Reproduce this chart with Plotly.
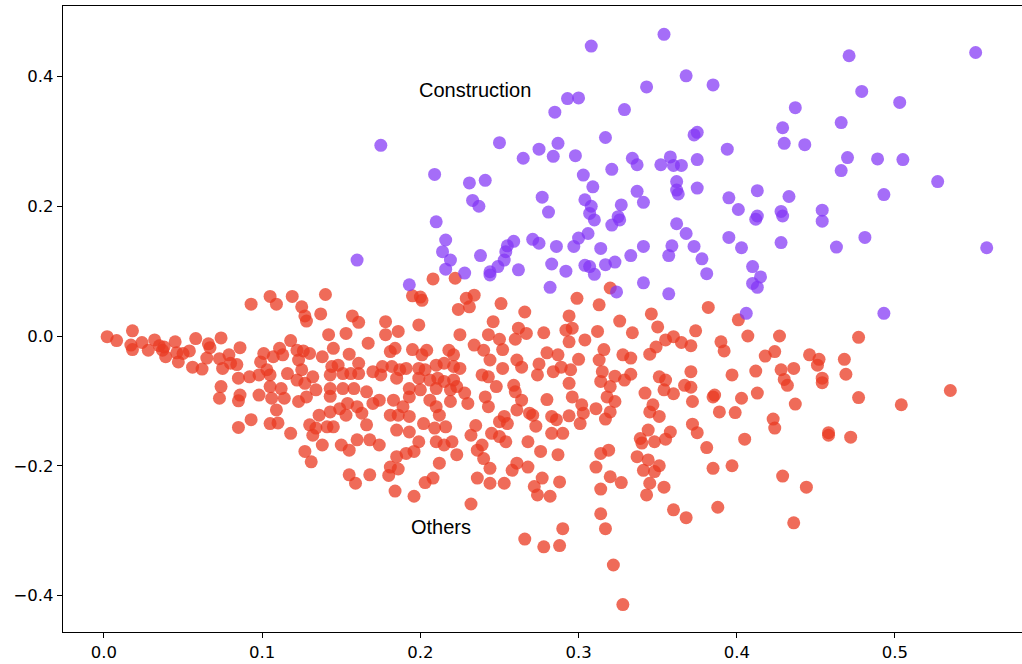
import plotly.graph_objects as go

# ---- data ----
others_x = [
    0.002, 0.008, 0.018, 0.017, 0.018, 0.024, 0.028, 0.032, 0.035, 0.038,
    0.037, 0.039, 0.045, 0.046, 0.047, 0.050, 0.054, 0.058, 0.056, 0.062,
    0.066, 0.067, 0.065, 0.074, 0.073, 0.075, 0.079, 0.080, 0.084, 0.086,
    0.093, 0.085, 0.074, 0.073, 0.086, 0.085, 0.092, 0.098, 0.099, 0.098,
    0.093, 0.085, 0.101,
    0.105, 0.109, 0.119, 0.125, 0.127, 0.128, 0.137, 0.140, 0.157, 0.161,
    0.142, 0.153, 0.167, 0.178, 0.178, 0.186, 0.199, 0.195, 0.200, 0.201,
    0.208, 0.222, 0.224, 0.225,
    0.118, 0.111, 0.107, 0.113, 0.122, 0.126, 0.130, 0.123, 0.138, 0.145,
    0.155, 0.161, 0.148, 0.144, 0.103, 0.105, 0.116, 0.125, 0.122, 0.127,
    0.132, 0.143, 0.151, 0.156, 0.161, 0.170, 0.176, 0.182, 0.187, 0.184,
    0.181, 0.195, 0.204, 0.201, 0.218, 0.221, 0.210, 0.215, 0.191, 0.199,
    0.203, 0.221, 0.225, 0.175, 0.185, 0.199, 0.206, 0.211, 0.215, 0.221,
    0.105, 0.112, 0.134, 0.143, 0.151, 0.158, 0.166, 0.193, 0.200, 0.210,
    0.219, 0.223,
    0.106, 0.114, 0.123, 0.128, 0.143, 0.149, 0.154, 0.160, 0.170, 0.174,
    0.183, 0.189, 0.193, 0.206, 0.210, 0.219,
    0.109, 0.136, 0.143, 0.153, 0.163, 0.181, 0.186, 0.193, 0.212,
    0.105, 0.110, 0.130, 0.134, 0.141, 0.145, 0.166, 0.185, 0.193, 0.202,
    0.209, 0.216, 0.118, 0.132, 0.138, 0.150, 0.155, 0.160, 0.168, 0.174,
    0.127, 0.131, 0.185, 0.191, 0.196, 0.199, 0.210, 0.215, 0.220, 0.212,
    0.181,
    0.234, 0.229, 0.231, 0.251, 0.266, 0.246, 0.262, 0.267, 0.260, 0.243,
    0.250, 0.252, 0.278, 0.299, 0.294, 0.292, 0.296, 0.294, 0.304, 0.313,
    0.320, 0.312, 0.326, 0.334, 0.346, 0.350, 0.316, 0.313, 0.328, 0.333,
    0.345, 0.349, 0.333, 0.329, 0.323, 0.315, 0.314, 0.320, 0.323, 0.318,
    0.311, 0.320, 0.317, 0.342, 0.347, 0.345, 0.351, 0.351, 0.234, 0.240,
    0.244, 0.261, 0.264, 0.252, 0.275, 0.274, 0.280, 0.287, 0.284, 0.289,
    0.295, 0.300, 0.294, 0.239, 0.243, 0.248, 0.241, 0.243, 0.230, 0.228,
    0.259, 0.260, 0.264, 0.261, 0.269, 0.273, 0.280, 0.296, 0.302, 0.303,
    0.301, 0.294, 0.283, 0.286, 0.253, 0.255, 0.250, 0.245, 0.250, 0.254,
    0.235, 0.232, 0.239, 0.240, 0.236, 0.268, 0.271, 0.283, 0.290, 0.276,
    0.287, 0.314, 0.319, 0.344, 0.339, 0.340, 0.348, 0.337, 0.344, 0.311,
    0.261, 0.268, 0.244,
    0.382, 0.401, 0.407, 0.427, 0.374, 0.360, 0.355, 0.365, 0.371, 0.390,
    0.392, 0.418, 0.424, 0.446, 0.452, 0.451, 0.468, 0.469, 0.477, 0.428,
    0.436, 0.430, 0.432, 0.454, 0.454, 0.412, 0.397, 0.371, 0.355, 0.367,
    0.371, 0.360, 0.354, 0.372, 0.385, 0.386, 0.403, 0.413, 0.437, 0.477,
    0.389, 0.399, 0.423, 0.424, 0.372, 0.375, 0.358, 0.355, 0.381, 0.405,
    0.458, 0.458, 0.472, 0.385, 0.397,
    0.504, 0.535,
    0.155, 0.159, 0.168, 0.186, 0.180, 0.184, 0.196, 0.203, 0.208, 0.223,
    0.232, 0.236, 0.244, 0.253, 0.258, 0.277, 0.272, 0.274, 0.282, 0.288,
    0.266, 0.278, 0.288, 0.290, 0.314, 0.320, 0.327, 0.314, 0.317, 0.322,
    0.328, 0.341, 0.348, 0.351, 0.345, 0.343, 0.354, 0.360, 0.368,
    0.429, 0.388, 0.436, 0.444,
]
others_y = [
    -0.001, -0.007, 0.008, -0.014, -0.021, -0.010, -0.022, -0.006, -0.015, -0.017,
    -0.022, -0.032, -0.009, -0.026, -0.040, -0.027, -0.023, -0.004, -0.048, -0.051,
    -0.012, -0.018, -0.034, -0.003, -0.035, -0.050, -0.029, -0.042, -0.044, -0.018,
    0.049, -0.065, -0.078, -0.096, -0.091, -0.100, -0.063, -0.060, -0.040, -0.091,
    -0.129, -0.141, -0.027,
    0.061, 0.049, 0.061, 0.045, 0.031, 0.023, 0.034, 0.064, 0.031, 0.021,
    0.002, 0.004, -0.011, 0.022, 0.002, 0.007, 0.017, 0.062, 0.060, 0.055,
    0.088, 0.089, 0.041, 0.002,
    -0.007, -0.019, -0.032, -0.029, -0.022, -0.023, -0.027, -0.037, -0.032, -0.019,
    -0.028, -0.042, -0.045, -0.047, -0.052, -0.060, -0.058, -0.052, -0.068, -0.073,
    -0.063, -0.060, -0.058, -0.058, -0.058, -0.055, -0.047, -0.047, -0.052, -0.019,
    -0.024, -0.021, -0.022, -0.029, -0.022, -0.029, -0.045, -0.042, -0.050, -0.050,
    -0.052, -0.047, -0.050, -0.060, -0.065, -0.065, -0.068, -0.065, -0.070, -0.068,
    -0.078, -0.081, -0.083, -0.081, -0.081, -0.081, -0.086, -0.081, -0.083, -0.081,
    -0.083, -0.078,
    -0.096, -0.096, -0.101, -0.094, -0.093, -0.112, -0.104, -0.109, -0.104, -0.099,
    -0.099, -0.109, -0.094, -0.099, -0.109, -0.101,
    -0.114, -0.122, -0.117, -0.122, -0.119, -0.122, -0.122, -0.124, -0.122,
    -0.135, -0.134, -0.137, -0.142, -0.140, -0.140, -0.137, -0.145, -0.148, -0.135,
    -0.142, -0.140, -0.150, -0.153, -0.168, -0.168, -0.176, -0.160, -0.160, -0.168,
    -0.178, -0.194, -0.186, -0.181, -0.178, -0.163, -0.163, -0.168, -0.163, -0.196,
    -0.202,
    0.063, 0.058, 0.045, 0.050, 0.037, 0.022, 0.012, 0.004, -0.005, 0.002,
    -0.005, -0.021, 0.005, 0.058, 0.031, 0.009, 0.012, -0.009, -0.006, 0.048,
    0.074, 0.007, 0.023, 0.005, 0.034, 0.014, -0.021, -0.037, -0.029, -0.034,
    -0.028, -0.017, -0.059, -0.068, -0.062, -0.055, -0.070, -0.078, -0.101, -0.094,
    -0.112, -0.117, -0.128, -0.088, -0.106, -0.117, -0.124, -0.063, -0.014, -0.022,
    -0.037, -0.037, -0.048, -0.050, -0.043, -0.060, -0.026, -0.029, -0.055, -0.048,
    -0.052, -0.036, -0.073, -0.060, -0.063, -0.078, -0.094, -0.109, -0.104, -0.088,
    -0.076, -0.086, -0.099, -0.114, -0.119, -0.139, -0.098, -0.094, -0.106, -0.119,
    -0.135, -0.123, -0.124, -0.129, -0.124, -0.135, -0.132, -0.150, -0.155, -0.163,
    -0.138, -0.153, -0.168, -0.189, -0.176, -0.163, -0.122, -0.150, -0.150, -0.178,
    -0.183, -0.181, -0.176, -0.145, -0.158, -0.165, -0.163, -0.186, -0.191, -0.202,
    -0.196, -0.202, -0.204,
    0.044, 0.025, 0.000, 0.000, 0.008, -0.001, -0.006, -0.010, -0.015, -0.009,
    -0.023, -0.031, -0.024, -0.029, -0.036, -0.045, -0.036, -0.059, -0.002, -0.052,
    -0.050, -0.067, -0.076, -0.065, -0.072, -0.054, -0.060, -0.055, -0.068, -0.076,
    -0.079, -0.089, -0.083, -0.101, -0.094, -0.091, -0.096, -0.088, -0.105, -0.095,
    -0.117, -0.118, -0.128, -0.142, -0.136, -0.149, -0.148, -0.159, -0.172, -0.159,
    -0.149, -0.153, -0.156, -0.204, -0.200,
    -0.106, -0.084,
    -0.214, -0.227, -0.214, -0.205, -0.215, -0.239, -0.247, -0.226, -0.219, -0.183,
    -0.259, -0.219, -0.227, -0.227, -0.207, -0.219, -0.232, -0.245, -0.247, -0.225,
    -0.313, -0.325, -0.323, -0.297, -0.236, -0.217, -0.226, -0.274, -0.297, -0.353,
    -0.414, -0.207, -0.209, -0.200, -0.227, -0.245, -0.233, -0.268, -0.280,
    -0.216, -0.264, -0.288, -0.233,
]

construction_x = [
    0.308, 0.343, 0.293, 0.300, 0.285, 0.329, 0.250, 0.287, 0.317, 0.275,
    0.265, 0.284, 0.298, 0.334, 0.337, 0.321, 0.303, 0.209, 0.231, 0.241,
    0.175, 0.354, 0.368, 0.385, 0.471, 0.551, 0.479, 0.503, 0.437, 0.429,
    0.466, 0.375, 0.373, 0.394, 0.430, 0.443, 0.358, 0.352, 0.360, 0.365,
    0.375, 0.470, 0.489, 0.505, 0.466, 0.527, 0.362, 0.309, 0.337, 0.341,
    0.327, 0.304, 0.308, 0.277, 0.281, 0.307, 0.310, 0.325, 0.326, 0.321,
    0.233, 0.237, 0.210, 0.216, 0.214, 0.219, 0.216, 0.228, 0.238, 0.193,
    0.255, 0.259, 0.254, 0.253, 0.249, 0.244, 0.244, 0.262, 0.271, 0.275,
    0.286, 0.283, 0.292, 0.282, 0.297, 0.300, 0.306, 0.314, 0.304, 0.307,
    0.310, 0.317, 0.323, 0.333, 0.341, 0.341, 0.324, 0.362, 0.363, 0.375,
    0.395, 0.413, 0.433, 0.401, 0.413, 0.412, 0.428, 0.429, 0.454, 0.454,
    0.493, 0.481, 0.463, 0.558, 0.428, 0.395, 0.403, 0.362, 0.368, 0.359,
    0.357, 0.373, 0.378, 0.381, 0.410, 0.415, 0.410, 0.413, 0.357, 0.406,
    0.493, 0.160,
]
construction_y = [
    0.447, 0.384, 0.366, 0.367, 0.345, 0.349, 0.298, 0.297, 0.306, 0.288,
    0.274, 0.277, 0.278, 0.274, 0.264, 0.257, 0.248, 0.249, 0.236, 0.240,
    0.294, 0.465, 0.401, 0.387, 0.432, 0.437, 0.377, 0.360, 0.352, 0.321,
    0.329, 0.314, 0.310, 0.288, 0.297, 0.295, 0.276, 0.264, 0.263, 0.263,
    0.272, 0.275, 0.273, 0.272, 0.255, 0.238, 0.238, 0.230, 0.223, 0.206,
    0.202, 0.210, 0.200, 0.214, 0.191, 0.189, 0.179, 0.184, 0.179, 0.171,
    0.209, 0.200, 0.176, 0.148, 0.130, 0.117, 0.103, 0.097, 0.124, 0.079,
    0.139, 0.146, 0.130, 0.117, 0.107, 0.094, 0.099, 0.102, 0.149, 0.143,
    0.138, 0.111, 0.100, 0.075, 0.138, 0.151, 0.158, 0.135, 0.109, 0.107,
    0.095, 0.110, 0.114, 0.124, 0.138, 0.082, 0.068, 0.225, 0.219, 0.228,
    0.213, 0.224, 0.215, 0.195, 0.185, 0.180, 0.192, 0.185, 0.194, 0.177,
    0.218, 0.152, 0.137, 0.136, 0.144, 0.152, 0.136, 0.173, 0.158, 0.139,
    0.124, 0.138, 0.119, 0.096, 0.107, 0.091, 0.081, 0.075, 0.065, 0.035,
    0.035, 0.117,
]

x_ticks = [0.0, 0.1, 0.2, 0.3, 0.4, 0.5]
x_tick_labels = ["0.0", "0.1", "0.2", "0.3", "0.4", "0.5"]
y_ticks = [-0.4, -0.2, 0.0, 0.2, 0.4]
y_tick_labels = ["\u22120.4", "\u22120.2", "0.0", "0.2", "0.4"]

labels = ["Construction", "Others"]
label_x = [0.198, 0.193]
label_y = [0.379, -0.294]

RED = "rgb(233,58,34)"
PURPLE = "rgb(130,52,245)"

fig = go.Figure()
fig.add_trace(go.Scatter(
    x=others_x, y=others_y, mode="markers", name="Others",
    marker=dict(size=13, color=RED, opacity=0.75, line=dict(width=0)),
    showlegend=False,
))
fig.add_trace(go.Scatter(
    x=construction_x, y=construction_y, mode="markers", name="Construction",
    marker=dict(size=13, color=PURPLE, opacity=0.72, line=dict(width=0)),
    showlegend=False,
))

for t, lx, ly in zip(labels, label_x, label_y):
    fig.add_annotation(
        x=lx, y=ly, text=t, showarrow=False, xanchor="left", yanchor="middle",
        font=dict(family="Liberation Sans, Arial, sans-serif", size=20, color="black"),
    )

axis_common = dict(
    showgrid=False, zeroline=False, showline=True, linecolor="black", linewidth=1.2,
    ticks="outside", ticklen=5, tickwidth=1.2, tickcolor="black",
    tickfont=dict(family="DejaVu Sans", size=16.5, color="black"),
)

fig.update_layout(
    width=1022, height=664,
    margin=dict(l=63, r=0, t=6, b=32, autoexpand=False),
    paper_bgcolor="white", plot_bgcolor="white",
    xaxis=dict(range=[-0.0259, 0.5803], tickvals=x_ticks, ticktext=x_tick_labels,
               mirror=True, automargin=False, **axis_common),
    yaxis=dict(range=[-0.4563, 0.5087], tickvals=y_ticks, ticktext=y_tick_labels,
               automargin=False, **axis_common),
)

fig.write_html(
    "out.html",
    config={"displayModeBar": False},
    post_script="document.body.style.margin='0';document.body.style.overflow='hidden';",
)
